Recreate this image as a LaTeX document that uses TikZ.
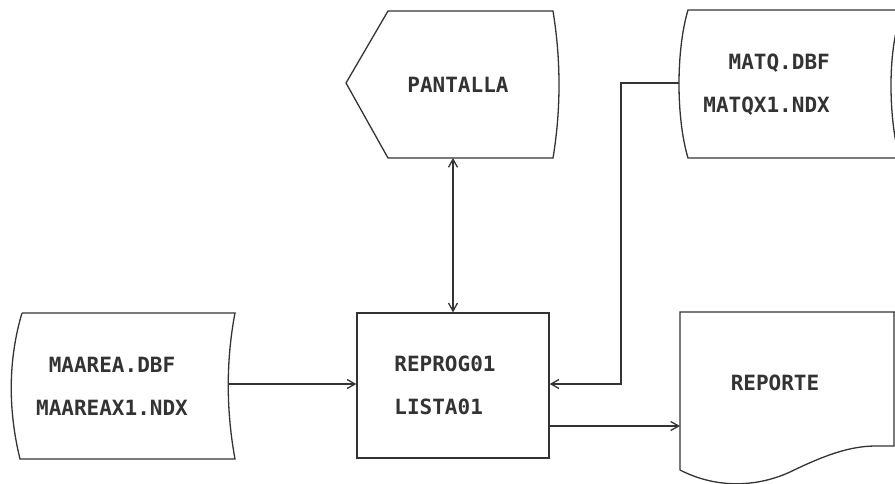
\documentclass[tikz,border=0pt]{standalone}
\usepackage{fontspec}
\setmonofont{DejaVu Sans Mono}
\usetikzlibrary{arrows.meta}
\begin{document}
\begin{tikzpicture}[x=1pt, y=-1pt,
    line/.style={draw=black!80, line width=1.3pt},
    flow/.style={line, -{Straight Barb[length=8pt, width=9pt]}},
    txt/.style={font=\ttfamily\bfseries\fontsize{21}{43}\selectfont, text=black!80, inner sep=0pt}]
  \useasboundingbox (0,0) rectangle (895,483);

  % stored data: MAAREA
  \draw[line] (22,313) -- (235,313) .. controls (226,360) and (226,410) .. (235,459)
    -- (20,459) .. controls (8,410) and (8,360) .. (22,313);
  \node[txt, align=center] (maarea) at (112,386) {MAAREA.DBF\\MAAREAX1.NDX};
  \coordinate (maarea-e) at (229,384);

  % program
  \node[line, minimum width=192, minimum height=145, inner sep=0pt] (reprog) at (453,385.5) {};
  \node[txt, align=left] (reprogtxt) at ([xshift=-8pt]reprog.center) {REPROG01\\LISTA01};

  % display: PANTALLA
  \draw[line] (346,83) -- (388,11) -- (553,11) .. controls (561,60) and (561,110) .. (553,158)
    -- (388,158) -- cycle;
  \node[txt] (pantalla) at (458,85) {PANTALLA};
  \coordinate (pantalla-s) at (453,158);

  % stored data: MATQ
  \draw[line] (910,10) -- (688,10) .. controls (676,50) and (676,118) .. (688,158) -- (910,158);
  \draw[line] (897,28) .. controls (889,60) and (889,110) .. (897,148);
  \node[txt, align=right, anchor=east] (matq) at (830,85) {MATQ.DBF\\MATQX1.NDX};
  \coordinate (matq-w) at (679,83);
  \coordinate (matq-bend) at (621,83);

  % document: REPORTE
  \draw[line] (910,312) -- (680,312) -- (680,470)
    .. controls (715,488) and (755,488) .. (790,472)
    .. controls (825,455) and (850,446) .. (876,446) -- (894,446) -- (894,312);
  \node[txt] (reporte) at (775,383) {REPORTE};
  \coordinate (reporte-w) at (680,426);

  % connectors
  \draw[flow] (maarea-e) -- (maarea-e -| reprog.west);
  \draw[line, {Straight Barb[length=8pt, width=9pt]}-{Straight Barb[length=8pt, width=9pt]}]
    (pantalla-s) -- (pantalla-s |- reprog.north);
  \draw[flow] (matq-w) -- (matq-bend) -- (matq-bend |- 0,384) -- (reprog.east |- 0,384);
  \draw[flow] (reprog.east |- reporte-w) -- (reporte-w);
\end{tikzpicture}
\end{document}
